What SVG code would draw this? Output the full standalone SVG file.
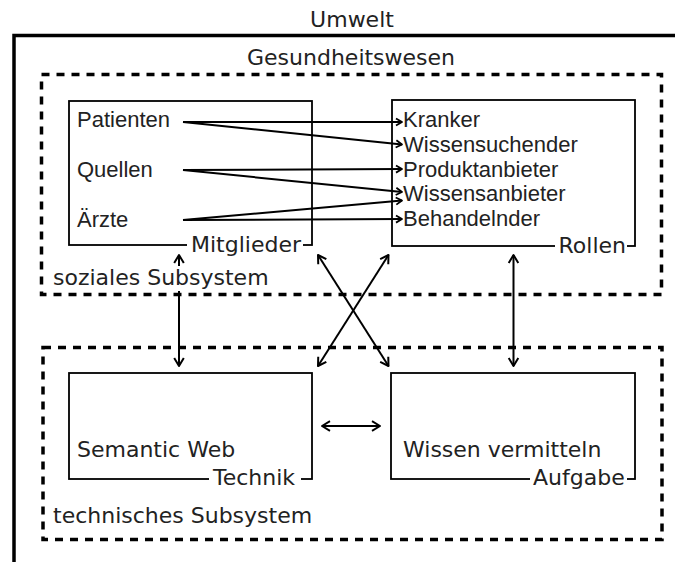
<svg xmlns="http://www.w3.org/2000/svg" width="675" height="562" viewBox="0 0 675 562">
  <style>
    .dv { font-family: "DejaVu Sans", Verdana, sans-serif; font-size: 22px; fill: #222; }
    .ar { font-family: "Liberation Sans", Arial, sans-serif; font-size: 22px; fill: #222; }
    .frame { fill: none; stroke: #000; stroke-width: 3.5; }
    .sub { fill: none; stroke: #000; stroke-width: 3.5; stroke-dasharray: 8 7; }
    .box { fill: none; stroke: #000; stroke-width: 1.8; }
    .bg { fill: #fff; }
    .link { fill: none; stroke: #000; stroke-width: 2; }
    .map { fill: none; stroke: #000; stroke-width: 2; marker-end: url(#small); }
    .both { fill: none; stroke: #000; stroke-width: 2; marker-start: url(#big); marker-end: url(#big); }
  </style>
  <defs>
    <marker id="big" markerUnits="userSpaceOnUse" viewBox="-10 -7 12 14" refX="0" refY="0" markerWidth="12" markerHeight="14" orient="auto-start-reverse" overflow="visible">
      <path d="M-8,-4.8 L0,0 L-8,4.8" fill="none" stroke="#000" stroke-width="2" stroke-linejoin="round"/>
    </marker>
    <marker id="small" markerUnits="userSpaceOnUse" viewBox="-8 -5 10 10" refX="0" refY="0" markerWidth="10" markerHeight="10" orient="auto" overflow="visible">
      <path d="M-6,-3.6 L0,0 L-6,3.6" fill="none" stroke="#000" stroke-width="1.8" stroke-linejoin="round"/>
    </marker>
  </defs>

  <!-- environment frame -->
  <g id="umwelt">
    <path class="frame" d="M14,562 V35.5 H675"/>
    <text class="dv" x="352" y="27" text-anchor="middle">Umwelt</text>
  </g>

  <g id="gesundheitswesen">
    <text class="dv" x="247" y="65">Gesundheitswesen</text>
  </g>

  <!-- subsystems -->
  <g id="soziales-subsystem">
    <rect class="sub" x="41.5" y="74.5" width="620" height="220"/>
  </g>
  <g id="technisches-subsystem">
    <rect class="sub" x="43" y="347.5" width="619" height="192"/>
  </g>

  <!-- nodes -->
  <g id="mitglieder">
    <rect class="box" x="69" y="101" width="243" height="144"/>
    <text class="ar" x="77" y="127">Patienten</text>
    <text class="ar" x="77" y="177">Quellen</text>
    <text class="ar" x="77" y="227">Ärzte</text>
    <rect class="bg" x="187" y="238" width="116" height="14"/>
    <text class="dv" x="191" y="252">Mitglieder</text>
  </g>

  <g id="rollen">
    <rect class="box" x="392" y="100" width="243" height="146"/>
    <text class="ar" x="403" y="126.5">Kranker</text>
    <text class="ar" x="403" y="151.5">Wissensuchender</text>
    <text class="ar" x="403" y="176.5">Produktanbieter</text>
    <text class="ar" x="403" y="201">Wissensanbieter</text>
    <text class="ar" x="403" y="226">Behandelnder</text>
    <rect class="bg" x="555" y="239" width="72" height="14"/>
    <text class="dv" x="626" y="252.5" text-anchor="end">Rollen</text>
  </g>

  <g id="technik">
    <rect class="box" x="69" y="373" width="243" height="106"/>
    <text class="dv" x="77" y="457">Semantic Web</text>
    <rect class="bg" x="209" y="472" width="92" height="14"/>
    <text class="dv" x="213" y="485">Technik</text>
  </g>

  <g id="aufgabe">
    <rect class="box" x="391" y="373" width="244" height="106"/>
    <text class="dv" x="403" y="457">Wissen vermitteln</text>
    <rect class="bg" x="530" y="472" width="97" height="14"/>
    <text class="dv" x="533" y="485">Aufgabe</text>
  </g>

  <!-- connectors -->
  <g id="connectors">
    <line class="map" x1="183" y1="122" x2="402" y2="122"/>
    <line class="map" x1="183" y1="122" x2="402" y2="144.5"/>
    <line class="map" x1="183" y1="170" x2="402" y2="169"/>
    <line class="map" x1="183" y1="170" x2="402" y2="192"/>
    <line class="map" x1="183" y1="220" x2="402" y2="200.5"/>
    <line class="map" x1="183" y1="220" x2="402" y2="219"/>

    <line class="both" x1="179" y1="255" x2="179" y2="366"/>
    <line class="both" x1="513.5" y1="255" x2="513.5" y2="366"/>
    <line class="both" x1="318" y1="255" x2="388.5" y2="366"/>
    <line class="both" x1="388.5" y1="255" x2="318" y2="366"/>
    <line class="both" x1="322" y1="426" x2="380" y2="426"/>
  </g>

  <!-- subsystem captions -->
  <g id="soziales-label">
    <rect class="bg" x="50" y="266" width="223" height="25"/>
    <text class="dv" x="53" y="285">soziales Subsystem</text>
  </g>
  <g id="technisches-label">
    <text class="dv" x="53" y="523">technisches Subsystem</text>
  </g>
</svg>
